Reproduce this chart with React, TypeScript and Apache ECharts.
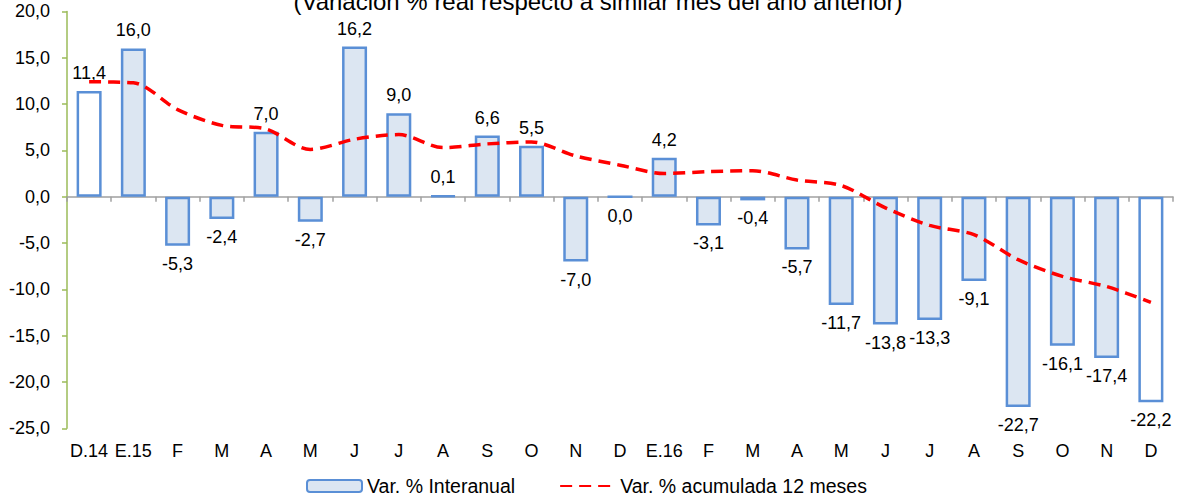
import React, { useEffect, useRef } from "react";
import * as echarts from "echarts";

const categories = ["D.14", "E.15", "F", "M", "A", "M", "J", "J", "A", "S", "O", "N", "D", "E.16", "F", "M", "A", "M", "J", "J", "A", "S", "O", "N", "D"];
const interanual = [11.4, 16.0, -5.3, -2.4, 7.0, -2.7, 16.2, 9.0, 0.1, 6.6, 5.5, -7.0, 0.0, 4.2, -3.1, -0.4, -5.7, -11.7, -13.8, -13.3, -9.1, -22.7, -16.1, -17.4, -22.2];
const acumulada = [12.4, 12.3, 9.4, 7.7, 7.3, 5.1, 6.2, 6.7, 5.3, 5.7, 5.9, 4.4, 3.4, 2.5, 2.7, 2.8, 1.8, 1.2, -1.2, -3.1, -4.1, -6.8, -8.6, -9.7, -11.4];
const whiteBars = [0, 24];
const yMin = -25;
const yMax = 20;
const yInterval = 5;
const title = "(Variación % real respecto a similar mes del año anterior)";
const seriesNames = ["Var. % Interanual", "Var. % acumulada 12 meses"];

const FONT = "'Liberation Sans', Arial, sans-serif";
const fmt = (v: number) => v.toFixed(1).replace(".", ",");

export default function App() {
  const ref = useRef<HTMLDivElement>(null);
  useEffect(() => {
    if (!ref.current) return;
    const chart = echarts.init(ref.current, null, { renderer: "svg" });
    const barData = interanual.map((v, i) => ({
      value: v,
      itemStyle: whiteBars.includes(i) ? { color: "#FFFFFF" } : undefined,
      label: { position: v > 0 ? "top" : "bottom" },
    }));
    chart.setOption({
      animation: false,
      textStyle: { fontFamily: FONT },
      graphic: [
        {
          type: "text",
          x: 598,
          y: 1,
          style: {
            text: title,
            fontSize: 24,
            fontFamily: FONT,
            fill: "#000",
            textAlign: "center",
            textVerticalAlign: "middle",
          },
        },
      ],
      legend: {
        left: 301,
        top: 471,
        itemWidth: 55,
        itemHeight: 12,
        itemGap: 44,
        textStyle: { fontSize: 19.5, color: "#000", fontFamily: FONT },
        data: [
          { name: seriesNames[0] },
          { name: seriesNames[1], itemStyle: { color: "rgba(0,0,0,0)", borderWidth: 0, opacity: 0 } },
        ],
      },
      grid: { left: 67, top: 11.4, width: 1106, height: 416.9, containLabel: false },
      xAxis: [
        {
          type: "category",
          data: categories,
          position: "bottom",
          axisLine: { show: false, onZero: false },
          axisTick: { show: false },
          axisLabel: { fontSize: 18, color: "#000", margin: 14, interval: 0, fontFamily: FONT },
        },
        {
          type: "category",
          data: categories,
          position: "top",
          axisLine: { show: true, onZero: true, lineStyle: { color: "#A0A0A0", width: 1.5 } },
          axisTick: { show: true, inside: true, length: 5, lineStyle: { color: "#A0A0A0", width: 1.5 } },
          axisLabel: { show: false },
        },
      ],
      yAxis: {
        type: "value",
        min: yMin,
        max: yMax,
        interval: yInterval,
        axisLine: { show: true, lineStyle: { color: "#9BBB59", width: 1.5 } },
        axisTick: { show: true, length: 5, lineStyle: { color: "#9BBB59", width: 1.5 } },
        splitLine: { show: false },
        axisLabel: { fontSize: 18, color: "#000", margin: 17, formatter: (v: number) => fmt(v), fontFamily: FONT },
      },
      series: [
        {
          name: seriesNames[0],
          type: "bar",
          xAxisIndex: 0,
          barWidth: 25,
          data: barData,
          itemStyle: { color: "#DCE6F2", borderColor: "#5A8FD6", borderWidth: 2.5 },
          label: {
            show: true,
            distance: 9,
            fontSize: 18,
            color: "#000",
            fontFamily: FONT,
            formatter: (p: any) => fmt(p.value),
          },
        },
        {
          name: seriesNames[1],
          type: "line",
          xAxisIndex: 0,
          data: acumulada,
          smooth: 0.3,
          symbol: "none",
          lineStyle: { color: "#FF0000", width: 3.5, type: [12, 7] },
          itemStyle: { color: "#FF0000" },
          z: 5,
        },
      ],
    });
    return () => chart.dispose();
  }, []);
  return (
    <div
      ref={ref}
      style={{ position: "fixed", left: 0, top: 0, width: 1178, height: 497, background: "#fff" }}
    />
  );
}
